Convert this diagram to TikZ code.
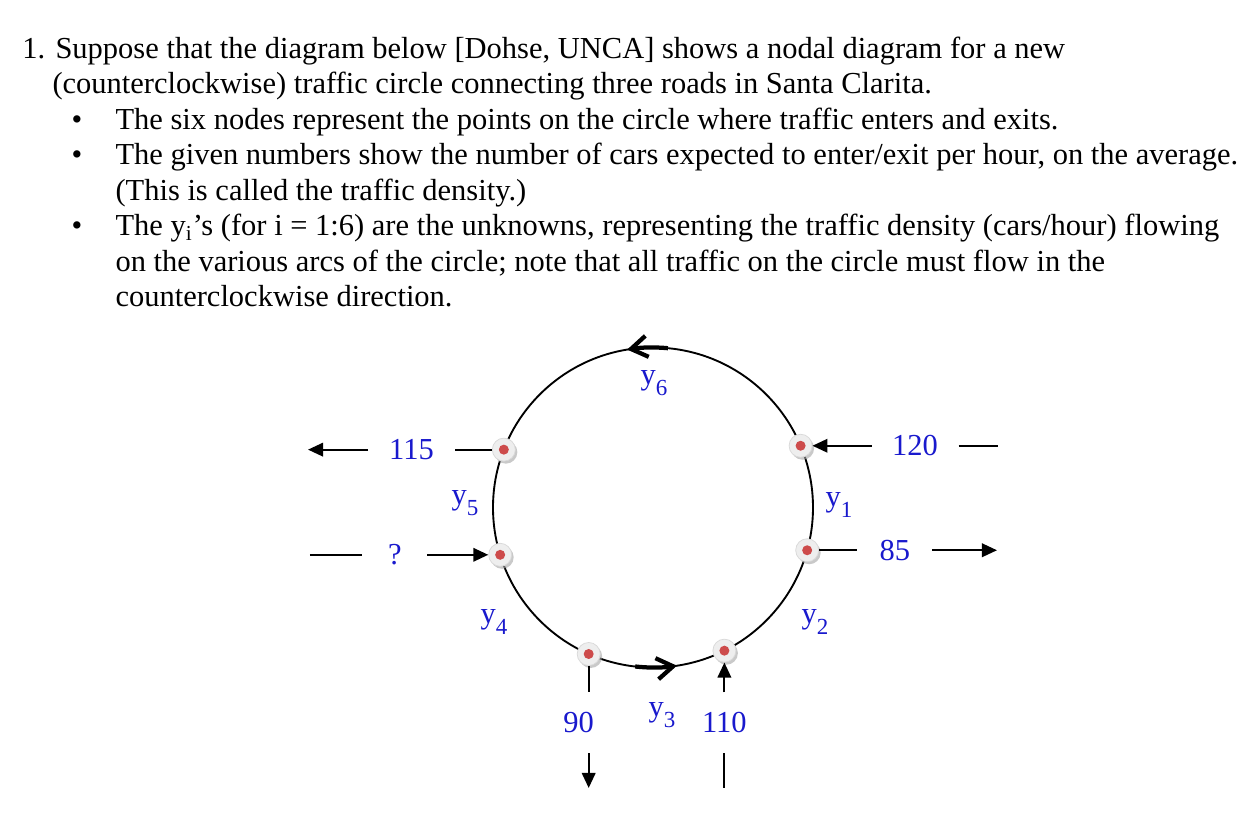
\documentclass[tikz,border=0pt]{standalone}
\usepackage{fontspec}
\setmainfont{Liberation Serif}
\usetikzlibrary{arrows.meta,calc,shadows}
\definecolor{lblue}{RGB}{25,25,205}
\definecolor{dotred}{RGB}{205,75,75}
\definecolor{diskgray}{RGB}{238,238,238}
\newcommand\ysub[1]{y\raisebox{-0.38em}{\fontsize{9.2}{10}\selectfont #1}}
\begin{document}
\begin{tikzpicture}[x=0.4pt,y=-0.4pt,
  txt/.style={anchor=base west, inner sep=0pt, font=\fontsize{12.2}{14}\selectfont},
  bul/.style={anchor=base, inner sep=0pt, font=\fontsize{12.2}{14}\selectfont},
  lbl/.style={text=lblue, inner sep=0pt, font=\fontsize{12.2}{14}\selectfont},
  hroad/.style={lbl, minimum width=34.4pt, minimum height=8pt},
  vroad/.style={lbl, minimum height=24pt, minimum width=8pt},
  road/.style={line width=0.8pt},
  roadarr/.style={road, -{Triangle[length=6pt,width=5.4pt]}},
  ring/.style={line width=0.75pt},
  flow/.style={line width=1.7pt, -{Straight Barb[length=6.5pt,width=8.5pt]}},
  junction/.style={circle, minimum size=9.2pt, inner sep=0pt, fill=diskgray,
    draw=white!85!black, line width=0.3pt,
    drop shadow={shadow xshift=0.8pt, shadow yshift=-1pt, fill=black!35, opacity=0.6},
    path picture={\fill[dotred] (path picture bounding box.center) circle (2pt);}},
]
\fill[white] (0,0) rectangle (1254,832);
\useasboundingbox (0,0) rectangle (1254,832);

% text
\node[txt] (t1) at (22,58.5) {1. Suppose that the diagram below [Dohse, UNCA] shows a nodal diagram for a new};
\node[txt] (t2) at (52,94) {(counterclockwise) traffic circle connecting three roads in Santa Clarita.};
\node[bul] (b1) at (77,129.5) {\textbullet};
\node[txt] (t3) at (115,129.5) {The six nodes represent the points on the circle where traffic enters and exits.};
\node[bul] (b2) at (77,165) {\textbullet};
\node[txt] (t4) at (115,165) {The given numbers show the number of cars expected to enter/exit per hour, on the average.};
\node[txt] (t5) at (115,200.5) {(This is called the traffic density.)};
\node[bul] (b3) at (77,236) {\textbullet};
\node[txt] (t6) at (115,236) {The y\textsubscript{i}’s (for i = 1:6) are the unknowns, representing the traffic density (cars/hour) flowing};
\node[txt] (t7) at (115,271.5) {on the various arcs of the circle; note that all traffic on the circle must flow in the};
\node[txt] (t8) at (115,307) {counterclockwise direction.};

% ring
\coordinate (C) at (653,507.5);
\draw[ring] (C) circle [radius=160];
\draw[flow] ($(C)+(275.4:160)$) arc[start angle=275.4, end angle=260.7, radius=160];
\draw[flow] ($(C)+(96.4:160)$) arc[start angle=96.4, end angle=81.4, radius=160];

% junctions
\node[junction] (n1) at ($(C)+(-22.7:160)$) {};
\node[junction] (n2) at ($(C)+(15.5:160)$) {};
\node[junction] (n3b) at ($(C)+(63.5:160)$) {};
\node[junction] (n3a) at ($(C)+(113.7:160)$) {};
\node[junction] (n4) at ($(C)+(162.8:160)$) {};
\node[junction] (n5) at ($(C)+(201.2:160)$) {};

% road labels
\node[hroad] (l115) at ($(n5)+(-92.3,0)$) {115};
\node[hroad] (l120) at ($(n1)+(114.4,0)$) {120};
\node[hroad, minimum width=25.6pt] (lq) at ($(n4)+(-105.2,0)$) {?};
\node[hroad, minimum width=29.6pt] (l85) at ($(n2)+(87.8,0)$) {85};
\node[vroad] (l90) at ($(n3a)+(0,69)$) {90\hspace*{8pt}};
\node[vroad] (l110) at ($(n3b)+(0,72.3)$) {110};

% free ends
\coordinate (e115) at ($(n5)+(-195.8,0)$);
\coordinate (e120) at ($(n1)+(197.4,0)$);
\coordinate (eq) at ($(n4)+(-190.2,0)$);
\coordinate (e85) at ($(n2)+(189.8,0)$);
\coordinate (e90) at ($(n3a)+(0,134)$);
\coordinate (e110) at ($(n3b)+(0,137.3)$);

% roads
\draw[roadarr] (l115.west) -- (e115);
\draw[road] (l115.east) -- (n5);
\draw[roadarr] (l120.west) -- (n1);
\draw[road] (l120.east) -- (e120);
\draw[road] (eq) -- (lq.west);
\draw[roadarr] (lq.east) -- (n4);
\draw[road] (n2) -- (l85.west);
\draw[roadarr] (l85.east) -- (e85);
\draw[road] (n3a) -- (l90.north);
\draw[roadarr] (l90.south) -- (e90);
\draw[road] (e110) -- (l110.south);
\draw[roadarr] (l110.north) -- (n3b);

% arc labels
\node[lbl] (y6) at (654,383) {\ysub{6}};
\node[lbl] (y5) at (465,503) {\ysub{5}};
\node[lbl] (y1) at (839,505) {\ysub{1}};
\node[lbl] (y4) at (494,622) {\ysub{4}};
\node[lbl] (y2) at (815,622) {\ysub{2}};
\node[lbl] (y3) at (662,715) {\ysub{3}};
\end{tikzpicture}
\end{document}
